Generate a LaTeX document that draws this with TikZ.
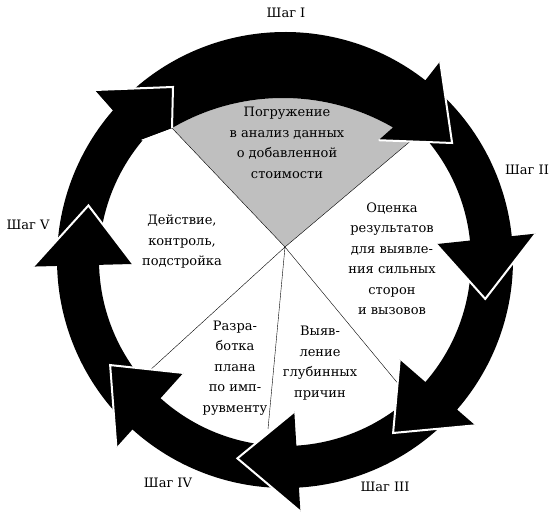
\documentclass[tikz,border=0pt]{standalone}
\usepackage{fontspec}
\setmainfont{DejaVu Serif}
\usetikzlibrary{calc}
\tikzset{
  ringfill/.style={fill=black},
  headedge/.style={draw=white, line width=2pt, line join=miter},
  pieline/.style={draw=black, line width=0.4pt},
  steptext/.style={font=\fontsize{13}{16}\selectfont, inner sep=0pt},
  blocktext/.style={align=center, font=\fontsize{13}{20.5}\selectfont, inner sep=0pt}
}
\newcommand{\cyclearrow}[2]{%
  \fill[ringfill] ($(ring)+(#1:228)$) arc[start angle=#1, end angle=#2, radius=228]
    -- ($(ring)+(#2:252)$) -- ($(ring)+(#2-17:204)$) -- ($(ring)+(#2:152)$)
    -- ($(ring)+(#2:186)$) arc[start angle=#2, end angle=#1, radius=186] -- cycle;
  \draw[headedge] ($(ring)+(#2:252)$) -- ($(ring)+(#2-17:204)$) -- ($(ring)+(#2:152)$);}
\begin{document}
\begin{tikzpicture}[x=1pt,y=1pt]
\useasboundingbox (0,0) rectangle (554,521);
\coordinate (ring) at (285,261);
\coordinate (bulge) at (283,203);
\coordinate (hub) at (285,274);
\coordinate (wl) at ($(bulge)+(120.3:220)$);
\coordinate (wr) at ($(bulge)+(54.1:220)$);
\coordinate (cl) at (148,149);
\coordinate (cb) at (268,92);
\coordinate (cr) at (400,135);
\fill[black!25] (hub) -- (wl) arc[start angle=120.3, end angle=54.1, radius=220] -- cycle;
\draw[pieline] (wl) -- (hub) -- (wr) (cl) -- (hub) -- (cb) (hub) -- (cr);
\fill[ringfill] ($(ring)+(177.5:228)$) arc[start angle=177.5, end angle=139, radius=228]
  -- (95,431) -- (173,434) -- (172,393) -- (140,381)
  -- ($(ring)+(140:186)$) arc[start angle=140, end angle=177.5, radius=186] -- cycle;
\cyclearrow{-136}{-178.5}
\cyclearrow{-90.5}{-132}
\cyclearrow{-45}{-86.5}
\cyclearrow{2}{-41}
\cyclearrow{48}{6}
\fill[ringfill] ($(ring)+(135:228)$) arc[start angle=135, end angle=52, radius=228]
  -- ($(ring)+(52:252)$) -- ($(ring)+(35:204)$) -- ($(ring)+(52:152)$)
  -- ($(bulge)+(60:220)$) arc[start angle=60, end angle=120.3, radius=220] -- cycle;
\draw[headedge] ($(ring)+(52:252)$) -- ($(ring)+(35:204)$) -- ($(ring)+(52:152)$);
\fill[ringfill] (95,431) -- (173,434) -- (172,393) -- (140,381) -- cycle;
\draw[headedge] (95,431) -- (173,434) -- (172,393);
\node[steptext] (step1) at (286,508) {Шаг I};
\node[steptext] (step2) at (527,351) {Шаг II};
\node[steptext] (step3) at (385,34) {Шаг III};
\node[steptext] (step4) at (168,38) {Шаг IV};
\node[steptext] (step5) at (28,296) {Шаг V};
\node[blocktext] (dive) at (287,378) {Погружение\\в анализ данных\\о добавленной\\стоимости};
\node[blocktext] (assess) at (392,262) {Оценка\\результатов\\для выявле-\\ния сильных\\сторон\\и вызовов};
\node[blocktext] (causes) at (320,158) {Выяв-\\ление\\глубинных\\причин};
\node[blocktext] (plan) at (235,153) {Разра-\\ботка\\плана\\по имп-\\рувменту};
\node[blocktext] (act) at (182,279) {Действие,\\контроль,\\подстройка};
\end{tikzpicture}
\end{document}
